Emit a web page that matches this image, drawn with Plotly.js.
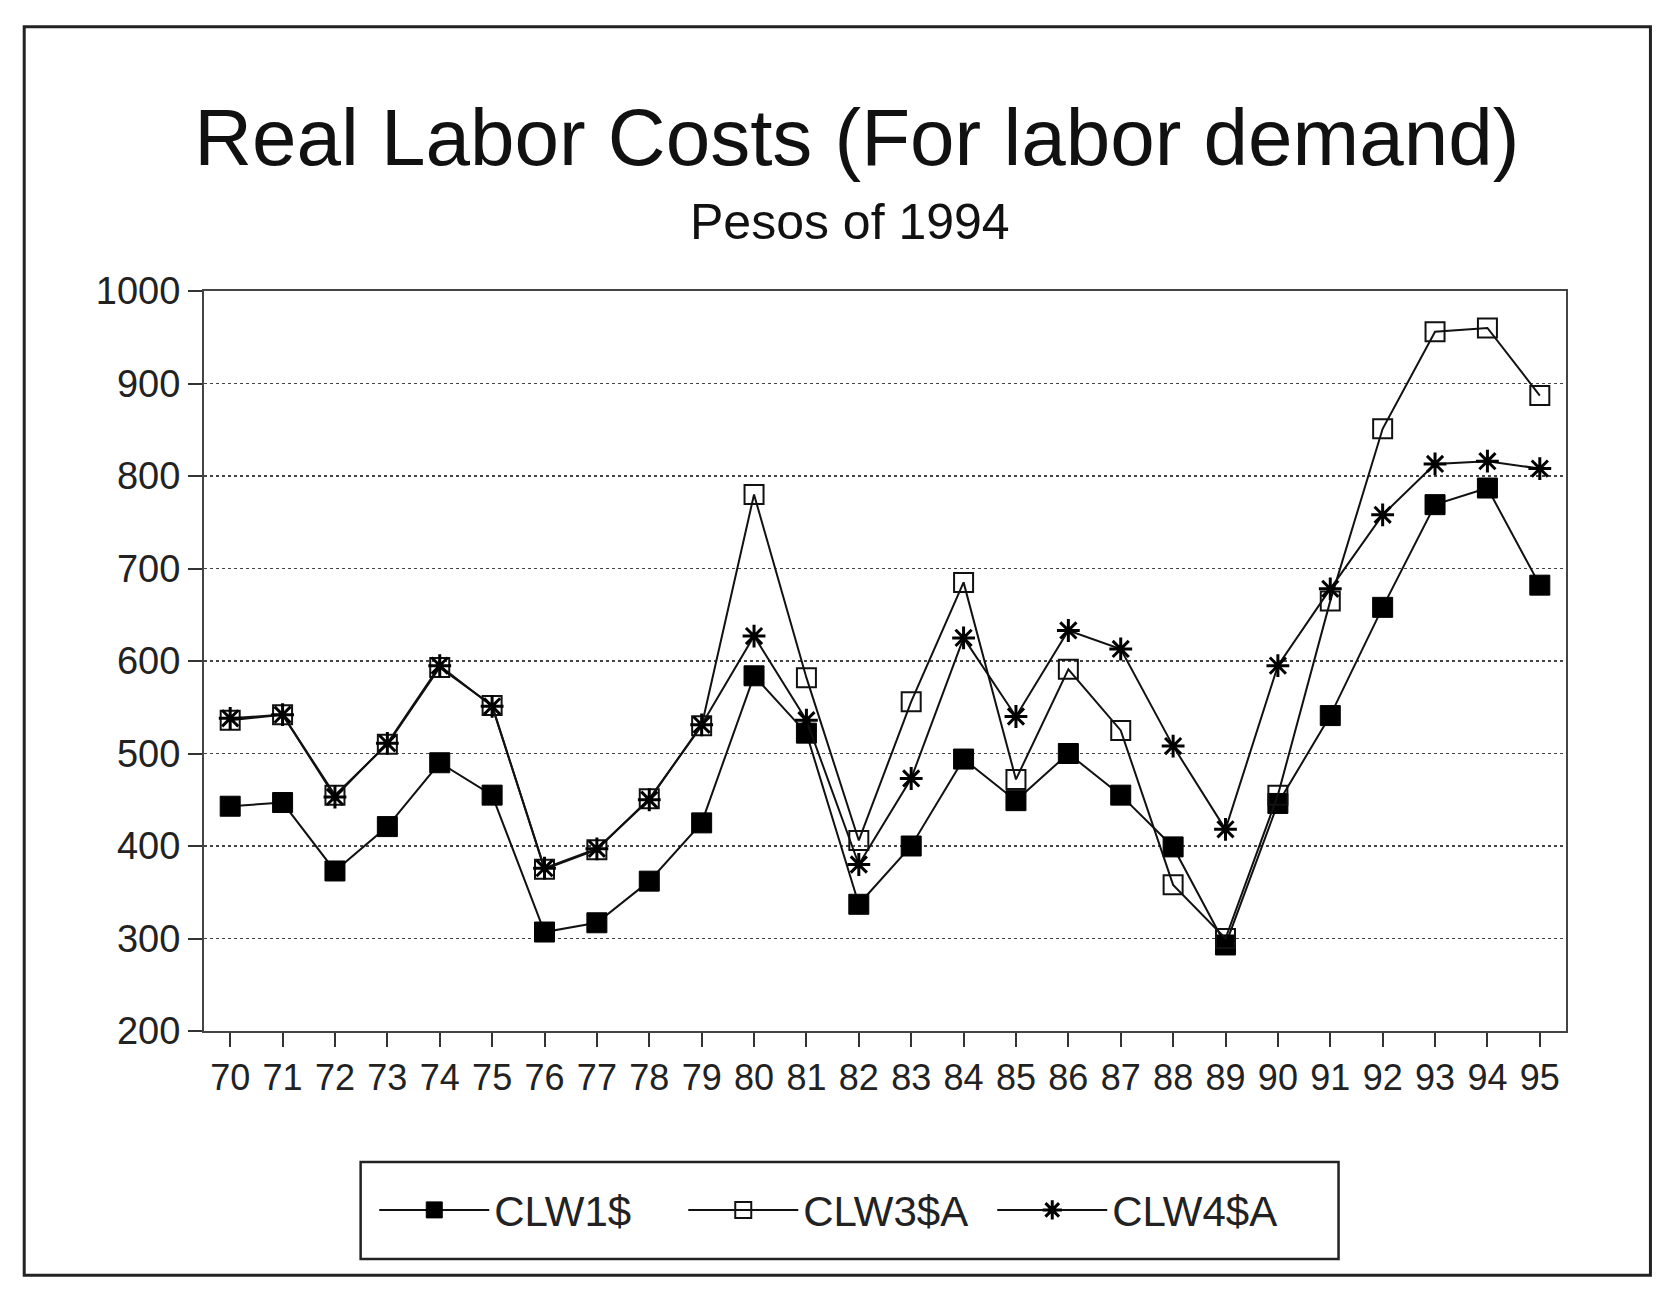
<!DOCTYPE html>
<html>
<head>
<meta charset="utf-8">
<script src="https://cdn.plot.ly/plotly-3.0.1.min.js"></script>
<style>html,body{margin:0;padding:0;background:#fff;}#chart{width:1680px;height:1292px;}</style>
</head>
<body>
<div id="chart"></div>
<script>
const years = [70,71,72,73,74,75,76,77,78,79,80,81,82,83,84,85,86,87,88,89,90,91,92,93,94,95];
const yearLabels = ["70","71","72","73","74","75","76","77","78","79","80","81","82","83","84","85","86","87","88","89","90","91","92","93","94","95"];
const clw1 = [443,447,373,421,490,455,307,317,362,425,584,522,337,400,494,449,500,455,399,293,446,541,658,769,787,682];
const clw3 = [536,542,455,510,593,552,375,396,451,530,780,582,406,556,685,472,591,525,358,300,455,665,851,956,960,887];
const clw4 = [538,542,453,511,595,551,376,397,450,531,627,536,380,473,625,540,633,613,508,418,595,678,758,813,816,808];
const seriesNames = ["CLW1$","CLW3$A","CLW4$A"];
const yTicks = [200,300,400,500,600,700,800,900,1000];

const FONT = "Liberation Sans, Arial, sans-serif";
const lineStyle = {color:"#111", width:2};

const traces = [
  {x:years, y:clw1, name:seriesNames[0], mode:"lines+markers", type:"scatter",
   line:lineStyle, marker:{symbol:"square", size:20, color:"#000", line:{color:"#000", width:1}}},
  {x:years, y:clw3, name:seriesNames[1], mode:"lines+markers", type:"scatter",
   line:lineStyle, marker:{symbol:"square-open", size:19, color:"#111", line:{color:"#111", width:2}}},
  {x:years, y:clw4, name:seriesNames[2], mode:"lines+markers", type:"scatter",
   line:lineStyle, marker:{symbol:"asterisk-open", size:19, color:"#000", line:{color:"#000", width:3}}}
];

const layout = {
  width:1680, height:1292,
  paper_bgcolor:"#fff", plot_bgcolor:"#fff",
  margin:{l:204, r:114, t:291, b:261},
  font:{family:FONT, color:"#111"},
  title:{text:"Real Labor Costs (For labor demand)", font:{family:FONT, size:80, color:"#111"},
         x:0.51, xanchor:"center", xref:"container", y:0.894, yanchor:"middle"},
  showlegend:true,
  legend:{orientation:"h", x:0.125, xanchor:"left", y:-0.242, yanchor:"middle",
          borderwidth:0, font:{family:FONT, size:42, color:"#222"},
          itemwidth:110, entrywidth:184, entrywidthmode:"pixels", bgcolor:"rgba(0,0,0,0)"},
  xaxis:{type:"linear", range:[69.5,95.5], tickmode:"array", tickvals:years, ticktext:yearLabels,
         ticks:"outside", ticklen:14, tickwidth:2, tickcolor:"#333",
         showline:true, linecolor:"#444", linewidth:2, mirror:true,
         showgrid:false, zeroline:false,
         tickfont:{family:FONT, size:36, color:"#222"}},
  yaxis:{range:[200,1000], tickmode:"array", tickvals:yTicks,
         ticks:"outside", ticklen:14, tickwidth:2, tickcolor:"#333",
         showline:true, linecolor:"#444", linewidth:2, mirror:true,
         showgrid:true, gridcolor:"#444", gridwidth:1.5, griddash:"dot", zeroline:false,
         tickfont:{family:FONT, size:38, color:"#222"}},
  annotations:[
    {text:"Pesos of 1994", xref:"paper", yref:"paper", x:0.474, y:1.093, xanchor:"center", yanchor:"middle",
     showarrow:false, font:{family:FONT, size:50, color:"#111"}}
  ],
  shapes:[
    {type:"rect", xref:"paper", yref:"paper", x0:-0.132, x1:1.062, y0:-0.330, y1:1.357,
     line:{color:"#222", width:3}, fillcolor:"rgba(0,0,0,0)", layer:"below"},
    {type:"rect", xref:"paper", yref:"paper", x0:0.115, x1:0.833, y0:-0.308, y1:-0.177,
     line:{color:"#222", width:2.5}, fillcolor:"rgba(0,0,0,0)", layer:"below"}
  ]
};

Plotly.newPlot("chart", traces, layout, {displayModeBar:false, staticPlot:true});
</script>
</body>
</html>
